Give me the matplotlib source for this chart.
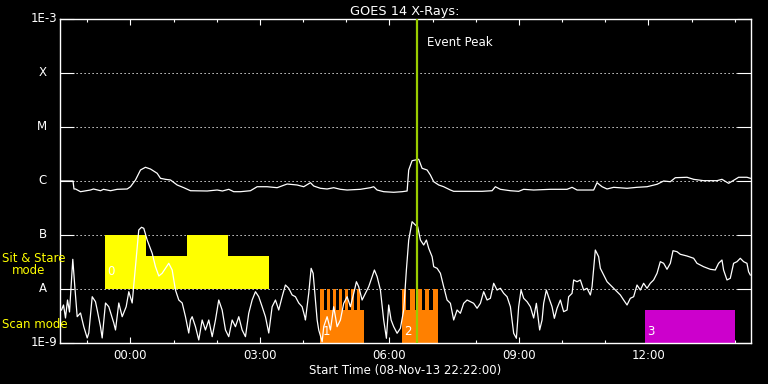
import numpy as np
import matplotlib
matplotlib.use("Agg")
import matplotlib.pyplot as plt
from matplotlib.ticker import FixedLocator, NullLocator

# ---------------- data ----------------
# time in hours relative to 09-Nov-13 00:00 (start 08-Nov-13 22:22)
X_START, X_END = -1.6333, 14.3667

# GOES 1-8 A channel (log10 W/m^2)
long_t = [-1.633, -1.332, -1.309, -1.274, -1.158, -0.927, -0.857, -0.695, -0.625, -0.463,
          -0.308, -0.076, 0.000, 0.116, 0.232, 0.347, 0.463, 0.618, 0.695, 0.811,
          0.927, 1.082, 1.235, 1.390, 1.777, 2.008, 2.131, 2.277, 2.393, 2.548,
          2.780, 2.935, 3.167, 3.398, 3.630, 3.862, 4.014, 4.170, 4.246, 4.401,
          4.556, 4.709, 4.864, 5.020, 5.328, 5.559, 5.636, 5.715, 5.868, 6.099,
          6.294, 6.410, 6.447, 6.525, 6.602, 6.678, 6.757, 6.873, 6.949, 7.026,
          7.142, 7.257, 7.413, 7.489, 7.800, 8.147, 8.379, 8.455, 8.571, 8.802,
          8.995, 9.111, 9.342, 9.729, 10.116, 10.232, 10.348, 10.732, 10.811, 10.927,
          11.043, 11.196, 11.506, 11.737, 11.969, 12.201, 12.354, 12.509, 12.625, 12.896,
          13.049, 13.281, 13.590, 13.706, 13.859, 14.014, 14.091, 14.285, 14.362]
long_log = [-6.000, -6.000, -6.148, -6.148, -6.198, -6.167, -6.148, -6.180, -6.154, -6.180,
            -6.154, -6.148, -6.106, -5.981, -5.796, -5.746, -5.778, -5.857, -5.950, -5.969,
            -5.981, -6.074, -6.124, -6.180, -6.185, -6.167, -6.185, -6.154, -6.198, -6.198,
            -6.180, -6.106, -6.106, -6.124, -6.056, -6.074, -6.106, -6.031, -6.093, -6.135,
            -6.148, -6.124, -6.154, -6.167, -6.154, -6.124, -6.106, -6.167, -6.198, -6.209,
            -6.198, -6.185, -5.796, -5.624, -5.611, -5.598, -5.765, -5.796, -5.889, -6.013,
            -6.074, -6.106, -6.167, -6.191, -6.191, -6.191, -6.180, -6.106, -6.154, -6.180,
            -6.191, -6.154, -6.167, -6.154, -6.154, -6.117, -6.167, -6.167, -6.031, -6.106,
            -6.148, -6.117, -6.135, -6.117, -6.106, -6.061, -6.000, -6.013, -5.939, -5.931,
            -5.969, -5.994, -5.994, -5.969, -6.043, -5.969, -5.931, -5.931, -5.950]

# GOES 0.5-4 A channel (log10 W/m^2)
short_t = [-1.598, -1.552, -1.506, -1.459, -1.413, -1.337, -1.290, -1.235, -1.158, -1.082,
           -1.003, -0.966, -0.887, -0.811, -0.771, -0.695, -0.656, -0.579, -0.503, -0.387,
           -0.347, -0.271, -0.192, -0.100, -0.039, 0.039, 0.116, 0.192, 0.255, 0.308,
           0.387, 0.503, 0.579, 0.656, 0.734, 0.887, 0.966, 1.042, 1.119, 1.198,
           1.274, 1.350, 1.390, 1.429, 1.506, 1.582, 1.661, 1.737, 1.814, 1.893,
           1.969, 2.045, 2.124, 2.201, 2.277, 2.356, 2.432, 2.509, 2.587, 2.664,
           2.740, 2.819, 2.896, 2.972, 3.051, 3.127, 3.204, 3.282, 3.359, 3.435,
           3.514, 3.590, 3.667, 3.746, 3.822, 3.899, 3.977, 4.038, 4.054, 4.130,
           4.186, 4.232, 4.285, 4.325, 4.362, 4.441, 4.478, 4.556, 4.633, 4.709,
           4.788, 4.864, 4.941, 5.020, 5.096, 5.173, 5.235, 5.288, 5.367, 5.444,
           5.520, 5.599, 5.652, 5.715, 5.791, 5.867, 5.930, 5.983, 6.039, 6.099,
           6.178, 6.254, 6.331, 6.393, 6.447, 6.525, 6.602, 6.655, 6.718, 6.794,
           6.857, 6.910, 6.989, 7.026, 7.105, 7.181, 7.257, 7.336, 7.413, 7.489,
           7.568, 7.644, 7.721, 7.800, 7.876, 7.952, 8.031, 8.108, 8.184, 8.263,
           8.339, 8.416, 8.494, 8.571, 8.648, 8.726, 8.803, 8.879, 8.942, 8.995,
           9.050, 9.111, 9.189, 9.266, 9.342, 9.405, 9.481, 9.537, 9.574, 9.636,
           9.713, 9.768, 9.822, 9.884, 9.961, 10.037, 10.116, 10.153, 10.232, 10.269,
           10.348, 10.424, 10.501, 10.579, 10.656, 10.695, 10.771, 10.848, 10.887, 10.964,
           11.043, 11.119, 11.196, 11.274, 11.351, 11.427, 11.506, 11.582, 11.659, 11.737,
           11.814, 11.890, 11.969, 12.045, 12.122, 12.201, 12.277, 12.354, 12.432, 12.509,
           12.571, 12.664, 12.740, 12.896, 13.049, 13.127, 13.280, 13.435, 13.551, 13.627,
           13.706, 13.743, 13.822, 13.898, 13.975, 14.054, 14.130, 14.207, 14.285, 14.322,
           14.362]
short_log = [-8.389, -8.296, -8.537, -8.204, -8.426, -7.450, -7.957, -8.513, -8.444, -8.698,
             -8.907, -8.815, -8.143, -8.235, -8.389, -8.698, -8.907, -8.259, -8.328, -8.630,
             -8.759, -8.259, -8.513, -8.328, -8.050, -8.259, -7.587, -6.907, -6.857, -6.876,
             -7.093, -7.339, -7.587, -7.759, -7.709, -7.524, -7.648, -8.019, -8.204, -8.259,
             -8.513, -8.815, -8.574, -8.513, -8.698, -8.944, -8.574, -8.759, -8.574, -8.883,
             -8.574, -8.204, -8.389, -8.759, -8.883, -8.574, -8.698, -8.513, -8.759, -8.883,
             -8.450, -8.204, -8.050, -8.143, -8.328, -8.513, -8.815, -8.328, -8.204, -8.389,
             -8.143, -7.926, -7.987, -8.111, -8.143, -8.259, -8.328, -8.513, -8.574, -8.080,
             -7.617, -7.709, -8.204, -8.574, -8.759, -8.976, -8.698, -8.513, -8.759, -8.328,
             -8.698, -8.574, -8.265, -8.143, -8.328, -8.080, -7.865, -7.957, -8.204, -8.080,
             -7.957, -7.772, -7.648, -7.772, -8.019, -8.574, -8.913, -8.296, -8.574, -8.698,
             -8.820, -8.728, -8.389, -7.648, -7.093, -6.754, -6.815, -6.846, -7.093, -7.185,
             -7.093, -7.246, -7.402, -7.587, -7.617, -7.709, -7.957, -8.204, -8.265, -8.574,
             -8.389, -8.450, -8.265, -8.204, -8.235, -8.265, -8.357, -8.265, -8.050, -8.204,
             -8.172, -7.894, -8.019, -7.987, -8.080, -8.143, -8.328, -8.820, -8.913, -8.328,
             -8.019, -8.172, -8.235, -8.328, -8.537, -8.265, -8.759, -8.574, -8.265, -8.019,
             -8.204, -8.328, -8.543, -8.357, -8.204, -8.420, -8.389, -8.143, -8.080, -7.833,
             -7.865, -7.833, -8.019, -7.987, -8.111, -7.957, -7.278, -7.402, -7.617, -7.741,
             -7.865, -7.926, -7.987, -8.050, -8.111, -8.204, -8.296, -8.172, -8.143, -7.926,
             -8.019, -7.894, -7.987, -7.894, -7.833, -7.709, -7.494, -7.524, -7.635, -7.524,
             -7.291, -7.309, -7.357, -7.389, -7.431, -7.524, -7.587, -7.635, -7.648, -7.524,
             -7.463, -7.648, -7.833, -7.802, -7.524, -7.494, -7.431, -7.494, -7.524, -7.680,
             -7.741]

# observation blocks (hours)
sit_stare_span = [(-0.579, 3.220)]
sit_stare_tall = [(-0.579, 0.371), (1.320, 2.270)]
scan_spans = [(4.401, 5.404), (6.301, 7.128)]
scan_teeth = [(4.401, 4.494), (4.556, 4.633), (4.695, 4.772), (4.834, 4.911),
              (4.964, 5.050), (5.103, 5.189), (5.242, 5.328),
              (6.301, 6.393), (6.486, 6.602), (6.655, 6.757), (6.817, 6.910), (7.012, 7.128)]
event3_span = [(11.930, 14.015)]
event_labels = ["0", "1", "2", "3"]
event_starts = [-0.579, 4.401, 6.301, 11.930]
event_label_log = [-7.685, -8.796, -8.796, -8.796]
event_peak = 6.641

ytick_vals = [1e-9, 1e-8, 1e-7, 1e-6, 1e-5, 1e-4, 1e-3]
ytick_names = ["1E-9", "A", "B", "C", "M", "X", "1E-3"]
xtick_vals = [0, 3, 6, 9, 12]
xtick_names = ["00:00", "03:00", "06:00", "09:00", "12:00"]

# ---------------- plot ----------------
W, H = 768, 384
fig = plt.figure(figsize=(W / 100, H / 100), dpi=100, facecolor="black")
ax = fig.add_axes([60 / W, 1 - 343 / H, 690.5 / W, 324 / H])
ax.set_facecolor("black")
ax.set_yscale("log")
ax.set_ylim(1e-9, 1e-3)
ax.set_xlim(X_START, X_END)

FS = 8.5
WHITE = "white"

for s in ax.spines.values():
    s.set_color(WHITE)
    s.set_linewidth(1.0)

# dotted grid at class levels
for v in ytick_vals[1:-1]:
    ax.axhline(v, color=WHITE, lw=0.72, dashes=(1.2, 2.8), zorder=1)


def block(a, b, lo, hi, color):
    ax.bar(x=a, height=hi - lo, width=b - a, bottom=lo, align="edge", color=color, lw=0, zorder=2)


SS_LOW, SS_MID, SS_HIGH = 1e-8, 10 ** -7.389, 1e-7
SC_LOW, SC_MID, SC_HIGH = 1e-9, 10 ** -8.389, 1e-8
for a, b in sit_stare_span:
    block(a, b, SS_LOW, SS_MID, "#ffff00")
for a, b in sit_stare_tall:
    block(a, b, SS_LOW, SS_HIGH, "#ffff00")
for a, b in scan_spans:
    block(a, b, SC_LOW, SC_MID, "#ff8000")
for a, b in scan_teeth:
    block(a, b, SC_LOW, SC_HIGH, "#ff8000")
for a, b in event3_span:
    block(a, b, SC_LOW, SC_MID, "#cc00cc")

for lab, t0, lv in zip(event_labels, event_starts, event_label_log):
    ax.annotate(lab, xy=(t0, 10 ** lv), xytext=(2, 0), textcoords="offset pixels",
                ha="left", va="center", color=WHITE, fontsize=FS, zorder=4)

# curves
ax.plot(long_t, 10 ** np.array(long_log), color=WHITE, lw=0.9, zorder=3)
ax.plot(short_t, 10 ** np.array(short_log), color=WHITE, lw=0.9, zorder=3)

# event peak
ax.axvline(event_peak, color="#9acd00", lw=1.6, zorder=5)
ax.annotate("Event Peak", xy=(event_peak, 1e-3), xytext=(10, -24), textcoords="offset pixels",
            ha="left", va="center", color=WHITE, fontsize=FS)

# ticks
ax.yaxis.set_major_locator(FixedLocator(ytick_vals))
ax.yaxis.set_minor_locator(NullLocator())
ax.tick_params(axis="y", which="major", direction="in", length=10, width=0.8, color=WHITE,
               left=True, right=True, labelleft=False, labelright=False)
ytr = ax.get_yaxis_transform()
for v, name in zip(ytick_vals, ytick_names):
    off = -3 if name.startswith("1E") else -13
    ax.annotate(name, xy=(0, v), xycoords=ytr, xytext=(off, 0), textcoords="offset pixels",
                ha="right", va="center", color=WHITE, fontsize=FS)

ax.set_xticks(xtick_vals)
ax.set_xticklabels(xtick_names)
ax.xaxis.set_minor_locator(FixedLocator(np.arange(-1, 15, 1)))
ax.tick_params(axis="x", which="major", direction="in", length=4.5, width=0.8, color=WHITE,
               top=True, bottom=True, labelcolor=WHITE, labelsize=FS, pad=4)
ax.tick_params(axis="x", which="minor", direction="in", length=2.5, width=0.8, color=WHITE,
               top=True, bottom=True)

ax.set_xlabel("Start Time (08-Nov-13 22:22:00)", color=WHITE, fontsize=FS, labelpad=1.5)
ax.set_title("GOES 14 X-Rays:", color=WHITE, fontsize=9.3, pad=3)

# mode labels
fig.text(2 / W, 1 - 259 / H, "Sit & Stare", color="#ffff00", fontsize=FS, ha="left", va="center")
fig.text(12 / W, 1 - 271 / H, "mode", color="#ffff00", fontsize=FS, ha="left", va="center")
fig.text(2 / W, 1 - 324 / H, "Scan mode", color="#ffff00", fontsize=FS, ha="left", va="center")

fig.savefig("out.png", dpi=100, facecolor="black")
